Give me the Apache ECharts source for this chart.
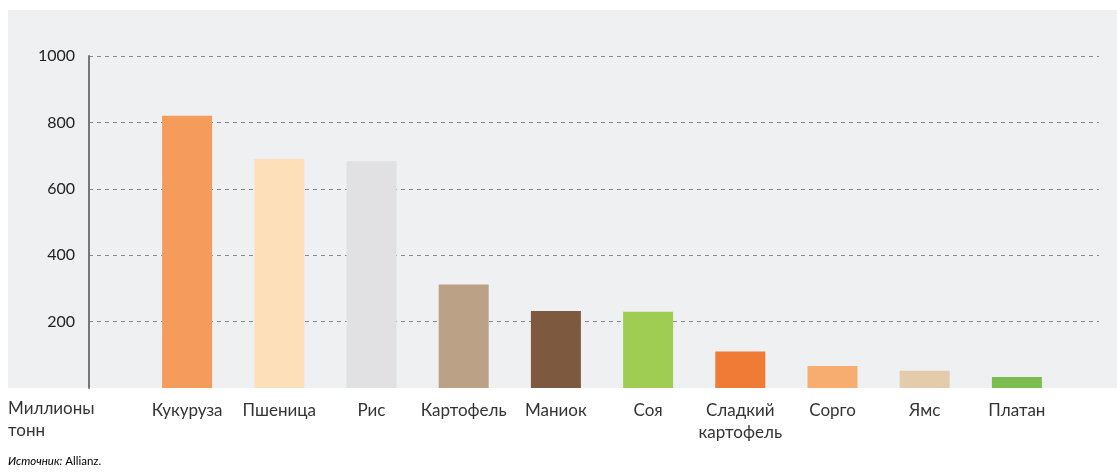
<!DOCTYPE html>
<html>
<head>
<meta charset="utf-8">
<script src="https://cdn.jsdelivr.net/npm/echarts@6/dist/echarts.min.js"></script>
<style>html,body{margin:0;padding:0;background:#fff}#c{width:1117px;height:472px}</style>
</head>
<body>
<div id="c"></div>
<script>
const categories = ['Кукуруза','Пшеница','Рис','Картофель','Маниок','Соя','Сладкий\nкартофель','Сорго','Ямс','Платан'];
const values = [820, 690, 683, 312, 232, 230, 110, 66, 52, 33];
const colors = ['#f59b5c','#fde0b9','#e1e1e3','#bba286','#7d5a3f','#9fcc53','#f07b37','#f8ad70','#e3cbab','#7cbd50'];
const yTicks = [0, 200, 400, 600, 800, 1000];
const unitLabel = 'Миллионы\nтонн';
const sourceLabel = ['Источник:', ' Allianz.'];

const chart = echarts.init(document.getElementById('c'), null, {renderer:'canvas'});
const font = 'Lato, "Open Sans", sans-serif';
chart.setOption({
  backgroundColor: '#ffffff',
  animation: false,
  graphic: [
    {type:'rect', z:-10, shape:{x:8, y:10, width:1109, height:378}, style:{fill:'#eef0f1'}},
    {type:'text', left:8, top:398, style:{text:unitLabel, font:'17px ' + font, fill:'#333', lineHeight:22}},
    {type:'text', left:8, top:455, style:{
      text:'{i|' + sourceLabel[0] + '}{r|' + sourceLabel[1] + '}',
      rich:{i:{fontStyle:'italic', fontSize:11.5, fontFamily:font, color:'#333'}, r:{fontSize:11.5, fontFamily:font, color:'#333'}}
    }}
  ],
  grid: [
    {left:89, right:18, top:56, bottom:84},
    {left:141, right:54, top:56, bottom:84}
  ],
  xAxis: [
    {gridIndex:0, type:'value', show:false, min:0, max:1},
    {gridIndex:1, type:'category', data:categories, axisLine:{show:false}, axisTick:{show:false},
     axisLabel:{interval:0, margin:12, fontSize:17, fontFamily:font, color:'#333', lineHeight:22, verticalAlign:'top'}}
  ],
  yAxis: [
    {gridIndex:0, type:'value', min:yTicks[0], max:yTicks[yTicks.length-1], interval:200,
     axisLine:{show:true, lineStyle:{color:'#777', width:2}}, axisTick:{show:false},
     axisLabel:{margin:14, fontSize:16, fontFamily:font, color:'#222', formatter:v => v === 0 ? '' : String(v)},
     splitLine:{show:true, showMinLine:false, lineStyle:{color:'#888', type:[4,4], width:1}}},
    {gridIndex:1, type:'value', min:yTicks[0], max:yTicks[yTicks.length-1], show:false, splitLine:{show:false}}
  ],
  series: [{
    type:'bar', xAxisIndex:1, yAxisIndex:1, barWidth:50,
    data: values.map((v,i) => ({value:v, itemStyle:{color:colors[i]}}))
  }]
});
</script>
</body>
</html>
